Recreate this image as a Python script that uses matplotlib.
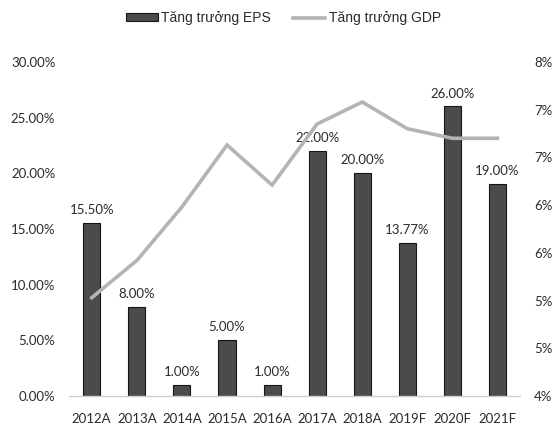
import numpy as np
import matplotlib as mpl
from matplotlib import pyplot as plt

years = ["2012A", "2013A", "2014A", "2015A", "2016A", "2017A", "2018A", "2019F", "2020F", "2021F"]
eps_growth = [15.50, 8.00, 1.00, 5.00, 1.00, 22.00, 20.00, 13.77, 26.00, 19.00]
gdp_growth = [5.03, 5.42, 5.98, 6.63, 6.21, 6.85, 7.08, 6.80, 6.70, 6.70]

plt.rcParams['font.family'] = ['Lato', 'DejaVu Sans']
text_color = "#2b2b2b"

fig = plt.figure(figsize=(5.58, 4.30), dpi=100)
ax = fig.add_axes([0.124, 0.079, 0.808, 0.777])
ax2 = ax.twinx()

x = np.arange(len(years))
bars = ax.bar(x, eps_growth, width=0.38, color="#4b4b4b", edgecolor="#151515", linewidth=0.8,
              label="Tăng trưởng EPS")
for xi, v in zip(x, eps_growth):
    ax.annotate(f"{v:.2f}%", (xi, v), xytext=(0, 5), textcoords="offset points",
                ha="center", va="bottom", fontsize=9.5, color=text_color)

line, = ax2.plot(x, gdp_growth, color="#b4b4b4", linewidth=2.6, solid_joinstyle="miter",
                 label="Tăng trưởng GDP")

ax.set_xlim(-0.5, len(years) - 0.5)
ax.set_ylim(0, 30)
ax.set_yticks(np.arange(0, 31, 5))
ax.set_yticklabels([f"{v:.2f}%" for v in np.arange(0, 31, 5)])
ax2.set_ylim(4, 7.5)
ax2.set_yticks(np.arange(4, 7.51, 0.5))
ax2.set_yticklabels([f"{int(np.floor(v + 0.5))}%" for v in np.arange(4, 7.51, 0.5)])
ax.set_xticks(x)
ax.set_xticklabels(years)

for a in (ax, ax2):
    for s in a.spines.values():
        s.set_visible(False)
    a.tick_params(length=0, labelsize=9.5, colors=text_color)
ax.spines["bottom"].set_visible(True)
ax.spines["bottom"].set_color("#cfcfcf")
ax.spines["bottom"].set_linewidth(1.0)
ax.tick_params(axis="y", pad=10)
ax.tick_params(axis="x", pad=12)
ax2.tick_params(axis="y", pad=10)

fig.legend(handles=[bars, line], loc="center", bbox_to_anchor=(0.508, 0.958), ncol=2,
           frameon=False, handlelength=2.3, handleheight=0.55, handletextpad=0.25,
           columnspacing=1.6, labelcolor=text_color,
           prop={'family': ['Liberation Sans', 'DejaVu Sans'], 'size': 10})

fig.savefig("out.png", dpi=100)
